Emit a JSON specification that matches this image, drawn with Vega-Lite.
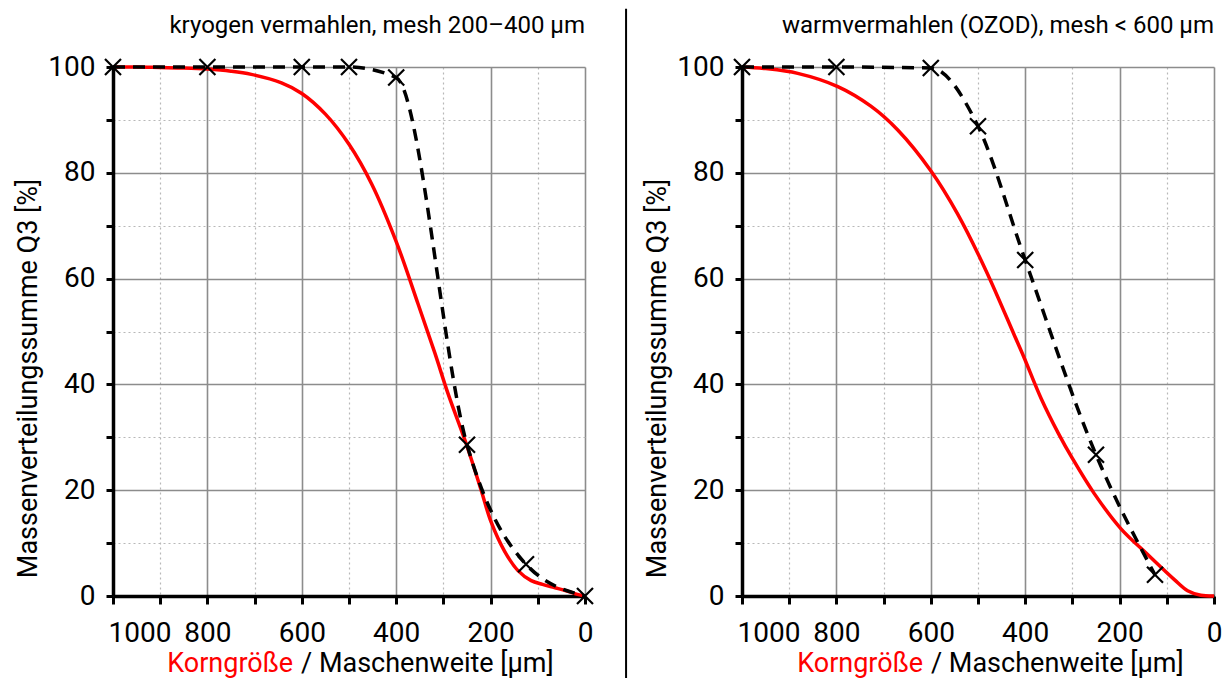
{
  "$schema": "https://vega.github.io/schema/vega-lite/v6.json",
  "background": "white",
  "padding": {"left": 14, "top": 7, "right": 5, "bottom": 0},
  "config": {
    "font": "Roboto",
    "view": {"stroke": null},
    "axis": {
      "labelFont": "Roboto", "titleFont": "Roboto", "labelColor": "black", "titleColor": "black",
      "labelFontSize": 28, "titleFontSize": 27, "titleFontWeight": "normal",
      "domainColor": "black", "domainWidth": 3.5, "tickColor": "black", "tickWidth": 3, "tickSize": 8,
      "labelOverlap": false, "labelFlush": false, "format": "d"
    }
  },
  "datasets": {
    "q3": [
      {"panel": "kryo", "series": "Korngröße", "size": 1000, "q3": 100},
      {"panel": "kryo", "series": "Korngröße", "size": 950, "q3": 100},
      {"panel": "kryo", "series": "Korngröße", "size": 900, "q3": 99.9},
      {"panel": "kryo", "series": "Korngröße", "size": 850, "q3": 99.8},
      {"panel": "kryo", "series": "Korngröße", "size": 800, "q3": 99.6},
      {"panel": "kryo", "series": "Korngröße", "size": 750, "q3": 99.2},
      {"panel": "kryo", "series": "Korngröße", "size": 707, "q3": 98.6},
      {"panel": "kryo", "series": "Korngröße", "size": 643, "q3": 97.0},
      {"panel": "kryo", "series": "Korngröße", "size": 600, "q3": 95.0},
      {"panel": "kryo", "series": "Korngröße", "size": 550, "q3": 91.1},
      {"panel": "kryo", "series": "Korngröße", "size": 500, "q3": 85.4},
      {"panel": "kryo", "series": "Korngröße", "size": 452, "q3": 77.9},
      {"panel": "kryo", "series": "Korngröße", "size": 400, "q3": 67.0},
      {"panel": "kryo", "series": "Korngröße", "size": 354, "q3": 55.3},
      {"panel": "kryo", "series": "Korngröße", "size": 318, "q3": 45.9},
      {"panel": "kryo", "series": "Korngröße", "size": 290, "q3": 38.2},
      {"panel": "kryo", "series": "Korngröße", "size": 251, "q3": 28.6},
      {"panel": "kryo", "series": "Korngröße", "size": 220, "q3": 20.0},
      {"panel": "kryo", "series": "Korngröße", "size": 199, "q3": 14.0},
      {"panel": "kryo", "series": "Korngröße", "size": 170, "q3": 8.4},
      {"panel": "kryo", "series": "Korngröße", "size": 142, "q3": 4.8},
      {"panel": "kryo", "series": "Korngröße", "size": 114, "q3": 2.9},
      {"panel": "kryo", "series": "Korngröße", "size": 90, "q3": 2.2},
      {"panel": "kryo", "series": "Korngröße", "size": 65, "q3": 1.6},
      {"panel": "kryo", "series": "Korngröße", "size": 40, "q3": 1.0},
      {"panel": "kryo", "series": "Korngröße", "size": 20, "q3": 0.4},
      {"panel": "kryo", "series": "Korngröße", "size": 0, "q3": 0},
      {"panel": "kryo", "series": "Maschenweite", "size": 1000, "q3": 100},
      {"panel": "kryo", "series": "Maschenweite", "size": 800, "q3": 100},
      {"panel": "kryo", "series": "Maschenweite", "size": 600, "q3": 100},
      {"panel": "kryo", "series": "Maschenweite", "size": 500, "q3": 100},
      {"panel": "kryo", "series": "Maschenweite", "size": 400, "q3": 98.0},
      {"panel": "kryo", "series": "Maschenweite", "size": 250, "q3": 28.6},
      {"panel": "kryo", "series": "Maschenweite", "size": 125, "q3": 6.0},
      {"panel": "kryo", "series": "Maschenweite", "size": 0, "q3": 0},
      {"panel": "warm", "series": "Korngröße", "size": 1000, "q3": 100},
      {"panel": "warm", "series": "Korngröße", "size": 950, "q3": 99.7},
      {"panel": "warm", "series": "Korngröße", "size": 882, "q3": 98.8},
      {"panel": "warm", "series": "Korngröße", "size": 797, "q3": 96.3},
      {"panel": "warm", "series": "Korngröße", "size": 727, "q3": 92.6},
      {"panel": "warm", "series": "Korngröße", "size": 670, "q3": 88.1},
      {"panel": "warm", "series": "Korngröße", "size": 600, "q3": 80.4},
      {"panel": "warm", "series": "Korngröße", "size": 543, "q3": 72.2},
      {"panel": "warm", "series": "Korngröße", "size": 483, "q3": 61.5},
      {"panel": "warm", "series": "Korngröße", "size": 423, "q3": 49.3},
      {"panel": "warm", "series": "Korngröße", "size": 402, "q3": 45.0},
      {"panel": "warm", "series": "Korngröße", "size": 366, "q3": 37.3},
      {"panel": "warm", "series": "Korngröße", "size": 330, "q3": 30.8},
      {"panel": "warm", "series": "Korngröße", "size": 300, "q3": 26.0},
      {"panel": "warm", "series": "Korngröße", "size": 254, "q3": 19.4},
      {"panel": "warm", "series": "Korngröße", "size": 197, "q3": 12.7},
      {"panel": "warm", "series": "Korngröße", "size": 140, "q3": 7.8},
      {"panel": "warm", "series": "Korngröße", "size": 84, "q3": 3.1},
      {"panel": "warm", "series": "Korngröße", "size": 56, "q3": 1.0},
      {"panel": "warm", "series": "Korngröße", "size": 28, "q3": 0.15},
      {"panel": "warm", "series": "Korngröße", "size": 0, "q3": 0},
      {"panel": "warm", "series": "Maschenweite", "size": 1000, "q3": 100},
      {"panel": "warm", "series": "Maschenweite", "size": 800, "q3": 100},
      {"panel": "warm", "series": "Maschenweite", "size": 600, "q3": 99.8},
      {"panel": "warm", "series": "Maschenweite", "size": 500, "q3": 88.8},
      {"panel": "warm", "series": "Maschenweite", "size": 400, "q3": 63.5},
      {"panel": "warm", "series": "Maschenweite", "size": 250, "q3": 26.7},
      {"panel": "warm", "series": "Maschenweite", "size": 125, "q3": 4.0}
    ]
  },
  "bounds": "flush",
  "spacing": 157,
  "hconcat": [
    {
      "width": 472, "height": 529,
      "title": {"text": "kryogen vermahlen, mesh 200–400  µm", "anchor": "end", "frame": "group", "fontSize": 24, "fontWeight": "normal", "font": "Roboto", "color": "black", "offset": -30},
      "layer": [
        {"data": {"name": "q3"}, "transform": [{"filter": "datum.panel === 'kryo' && datum.series === 'Korngröße'"}], "mark": {"type": "line", "color": "#ff0000", "strokeWidth": 3.5, "interpolate": "catmull-rom"},
          "encoding": {
            "x": {"field": "size", "type": "quantitative", "scale": {"domain": [1000, 0], "nice": false, "zero": false},
              "axis": {"values": [0,50,100,150,200,250,300,350,400,450,500,550,600,650,700,750,800,850,900,950,1000],
                "labelExpr": "datum.value % 200 === 0 ? datum.label : ''", "title": null, "labelPadding": 15,
                "labelAlign": {"condition": {"test": "datum.value === 1000", "value": "left"}, "value": "center"},
                "labelOffset": {"condition": {"test": "datum.value === 1000", "value": -5}, "value": 0},
                "grid": true,
                "gridColor": {"condition": {"test": "datum.value % 200 === 0", "value": "#8c8c8c"}, "value": "#b8b8b8"},
                "gridDash": {"condition": {"test": "datum.value % 200 === 0", "value": []}, "value": [2, 3]},
                "gridWidth": {"condition": {"test": "datum.value % 200 === 0", "value": 1.6}, "value": 1.2}}},
            "y": {"field": "q3", "type": "quantitative", "scale": {"domain": [0, 100], "nice": false},
              "axis": {"values": [0,5,10,15,20,25,30,35,40,45,50,55,60,65,70,75,80,85,90,95,100],
                "labelExpr": "datum.value % 20 === 0 ? datum.label : ''", "title": "Massenverteilungssumme Q3 [%]",
                "labelPadding": 11, "tickSize": 7, "titleX": -85, "titleY": 311, "titleBaseline": "middle",
                "grid": true,
                "gridColor": {"condition": {"test": "datum.value % 20 === 0", "value": "#8c8c8c"}, "value": "#b8b8b8"},
                "gridDash": {"condition": {"test": "datum.value % 20 === 0", "value": []}, "value": [2, 3]},
                "gridWidth": {"condition": {"test": "datum.value % 20 === 0", "value": 1.6}, "value": 1.2}}}
          }},
        {"data": {"name": "q3"}, "transform": [{"filter": "datum.panel === 'kryo' && datum.series === 'Maschenweite'"}], "mark": {"type": "line", "color": "black", "strokeWidth": 3.5, "strokeDash": [12, 8], "interpolate": "monotone"},
          "encoding": {"x": {"field": "size", "type": "quantitative"}, "y": {"field": "q3", "type": "quantitative"}}},
        {"data": {"name": "q3"}, "transform": [{"filter": "datum.panel === 'kryo' && datum.series === 'Maschenweite'"}], "mark": {"type": "point", "shape": "M-1,-1L1,1M1,-1L-1,1", "filled": false, "stroke": "black", "strokeWidth": 2.2, "size": 256, "opacity": 1},
          "encoding": {"x": {"field": "size", "type": "quantitative"}, "y": {"field": "q3", "type": "quantitative"}}},
        {"data": {"values": [{"part": "Korngröße"}]}, "mark": {"type": "text", "color": "#ff0000", "fontSize": 27, "align": "right", "baseline": "middle", "dx": -4},
          "encoding": {"text": {"field": "part", "type": "nominal"}, "x": {"datum": 610}, "y": {"datum": -12.9}}},
        {"data": {"values": [{"part": "/ Maschenweite [µm]"}]}, "mark": {"type": "text", "color": "black", "fontSize": 27, "align": "left", "baseline": "middle", "dx": 4},
          "encoding": {"text": {"field": "part", "type": "nominal"}, "x": {"datum": 610}, "y": {"datum": -12.9}}},
        {"data": {"values": [{"sep": 1}]}, "mark": {"type": "rule", "color": "black", "strokeWidth": 2},
          "encoding": {"x": {"datum": -87}, "y": {"datum": 111}, "y2": {"datum": -15.5}}}
      ]
    },
    {
      "width": 472, "height": 529,
      "title": {"text": "warmvermahlen  (OZOD), mesh < 600  µm", "anchor": "end", "frame": "group", "fontSize": 24, "fontWeight": "normal", "font": "Roboto", "color": "black", "offset": 15},
      "layer": [
        {"data": {"name": "q3"}, "transform": [{"filter": "datum.panel === 'warm' && datum.series === 'Korngröße'"}], "mark": {"type": "line", "color": "#ff0000", "strokeWidth": 3.5, "interpolate": "catmull-rom"},
          "encoding": {
            "x": {"field": "size", "type": "quantitative", "scale": {"domain": [1000, 0], "nice": false, "zero": false},
              "axis": {"values": [0,50,100,150,200,250,300,350,400,450,500,550,600,650,700,750,800,850,900,950,1000],
                "labelExpr": "datum.value % 200 === 0 ? datum.label : ''", "title": null, "labelPadding": 15,
                "labelAlign": {"condition": {"test": "datum.value === 1000", "value": "left"}, "value": "center"},
                "labelOffset": {"condition": {"test": "datum.value === 1000", "value": -5}, "value": 0},
                "grid": true,
                "gridColor": {"condition": {"test": "datum.value % 200 === 0", "value": "#8c8c8c"}, "value": "#b8b8b8"},
                "gridDash": {"condition": {"test": "datum.value % 200 === 0", "value": []}, "value": [2, 3]},
                "gridWidth": {"condition": {"test": "datum.value % 200 === 0", "value": 1.6}, "value": 1.2}}},
            "y": {"field": "q3", "type": "quantitative", "scale": {"domain": [0, 100], "nice": false},
              "axis": {"values": [0,5,10,15,20,25,30,35,40,45,50,55,60,65,70,75,80,85,90,95,100],
                "labelExpr": "datum.value % 20 === 0 ? datum.label : ''", "title": "Massenverteilungssumme Q3 [%]",
                "labelPadding": 11, "tickSize": 7, "titleX": -85, "titleY": 311, "titleBaseline": "middle",
                "grid": true,
                "gridColor": {"condition": {"test": "datum.value % 20 === 0", "value": "#8c8c8c"}, "value": "#b8b8b8"},
                "gridDash": {"condition": {"test": "datum.value % 20 === 0", "value": []}, "value": [2, 3]},
                "gridWidth": {"condition": {"test": "datum.value % 20 === 0", "value": 1.6}, "value": 1.2}}}
          }},
        {"data": {"name": "q3"}, "transform": [{"filter": "datum.panel === 'warm' && datum.series === 'Maschenweite'"}], "mark": {"type": "line", "color": "black", "strokeWidth": 3.5, "strokeDash": [12, 8], "interpolate": "monotone"},
          "encoding": {"x": {"field": "size", "type": "quantitative"}, "y": {"field": "q3", "type": "quantitative"}}},
        {"data": {"name": "q3"}, "transform": [{"filter": "datum.panel === 'warm' && datum.series === 'Maschenweite'"}], "mark": {"type": "point", "shape": "M-1,-1L1,1M1,-1L-1,1", "filled": false, "stroke": "black", "strokeWidth": 2.2, "size": 256, "opacity": 1},
          "encoding": {"x": {"field": "size", "type": "quantitative"}, "y": {"field": "q3", "type": "quantitative"}}},
        {"data": {"values": [{"part": "Korngröße"}]}, "mark": {"type": "text", "color": "#ff0000", "fontSize": 27, "align": "right", "baseline": "middle", "dx": -4},
          "encoding": {"text": {"field": "part", "type": "nominal"}, "x": {"datum": 608}, "y": {"datum": -12.9}}},
        {"data": {"values": [{"part": "/ Maschenweite [µm]"}]}, "mark": {"type": "text", "color": "black", "fontSize": 27, "align": "left", "baseline": "middle", "dx": 4},
          "encoding": {"text": {"field": "part", "type": "nominal"}, "x": {"datum": 608}, "y": {"datum": -12.9}}}
      ]
    }
  ]
}
